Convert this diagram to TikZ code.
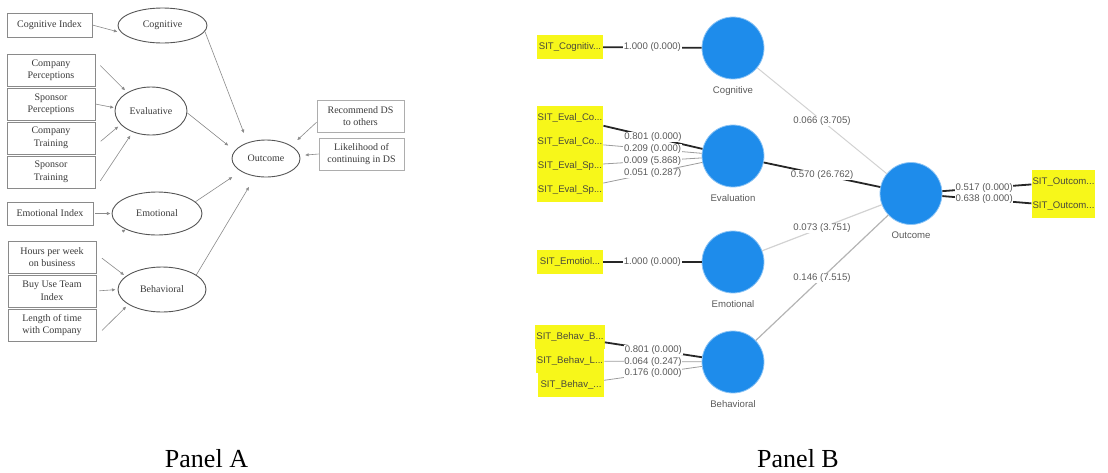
\documentclass[tikz,border=0pt]{standalone}
\usepackage{fontspec}
\setmainfont{Liberation Serif}
\newfontfamily\plsfont{Liberation Sans}
\usetikzlibrary{arrows.meta,shapes.geometric}

\definecolor{lineA}{HTML}{8A8A8A}
\definecolor{ellA}{HTML}{555555}
\definecolor{textA}{HTML}{3A3A3A}
\definecolor{plsblue}{HTML}{1E8CEB}
\definecolor{plshalo}{HTML}{8CC4F5}
\definecolor{plsyellow}{HTML}{F7F71A}
\definecolor{plstext}{HTML}{4A4A3A}
\definecolor{plslabel}{HTML}{5A5A5A}
\definecolor{pathlight}{HTML}{D2D2D2}
\definecolor{pathmid}{HTML}{B4B4B4}
\definecolor{loadlight}{HTML}{9C9C9C}

\tikzset{
  % Panel A: measurement model sketch
  indbox/.style={draw=lineA, line width=0.7pt, fill=white, minimum width=88pt,
    minimum height=32pt, inner sep=1pt, align=center, text=textA,
    font=\fontsize{10}{12.5}\selectfont},
  latent/.style={ellipse, draw=ellA, line width=0.9pt, inner sep=0pt, text=textA,
    font=\fontsize{10}{12}\selectfont},
  arrA/.style={draw=lineA, line width=0.6pt, -{Latex[length=3.6pt,width=3.4pt]}},
  % Panel B: estimated PLS model
  pcirc/.style={circle, fill=plsblue, draw=plshalo, line width=0.8pt,
    minimum size=62pt, inner sep=0pt},
  clabel/.style={text=plslabel, inner sep=0pt, yshift=-6.5pt,
    font=\plsfont\fontsize{9.6}{11}\selectfont},
  ybox/.style={fill=plsyellow, minimum width=66pt, minimum height=24pt, inner sep=1pt,
    text=plstext, font=\plsfont\fontsize{9.6}{11}\selectfont},
  wlbl/.style={fill=white, inner sep=0.6pt, text=plslabel,
    font=\plsfont\fontsize{9.6}{11}\selectfont},
  heavy/.style={draw=black!85, line width=1.8pt},
  thinload/.style={draw=loadlight, line width=0.8pt},
  panel/.style={font=\fontsize{26}{30}\selectfont, text=black, inner sep=0pt}
}

\begin{document}
\begin{tikzpicture}[x=1pt,y=-1pt]
\useasboundingbox (0,0) rectangle (1108,472);

% ---------------- Panel A ----------------
\node[indbox, minimum width=85pt, minimum height=24pt] (cidx) at (49.5,25) {Cognitive Index};
\node[indbox] (cp) at (51,70)  {Company\\Perceptions};
\node[indbox] (sp) at (51,104) {Sponsor\\Perceptions};
\node[indbox] (ct) at (51,138) {Company\\Training};
\node[indbox] (st) at (51,172) {Sponsor\\Training};
\node[indbox, minimum width=86pt, minimum height=23pt] (eidx) at (50,213.5) {Emotional Index};
\node[indbox] (hrs) at (52,257) {Hours per week\\on business};
\node[indbox] (buy) at (52,291) {Buy Use Team\\Index};
\node[indbox] (len) at (52,325) {Length of time\\with Company};
\node[indbox, draw=lineA!70, minimum width=87pt] (rec) at (360.5,116) {Recommend DS\\to others};
\node[indbox, draw=lineA!70, minimum width=85pt] (lik) at (361.5,154) {Likelihood of\\continuing in DS};

\node[latent, minimum width=89pt, minimum height=35pt] (cog)  at (162.5,25.5) {Cognitive};
\node[latent, minimum width=72pt, minimum height=48pt] (eval) at (151,111)   {Evaluative};
\node[latent, minimum width=90pt, minimum height=43pt] (emo)  at (157,213.5) {Emotional};
\node[latent, minimum width=88pt, minimum height=45pt] (beh)  at (162,289.5) {Behavioral};
\node[latent, minimum width=68pt, minimum height=37pt] (out)  at (266,158.5) {Outcome};

% indicators into their constructs
\draw[arrA, shorten >=4pt] (cidx.east) -- (cog.190);
\draw[arrA, shorten <=7pt, shorten >=3pt] (cp.12) -- (eval.142);
\draw[arrA, shorten >=1pt] (sp.east) -- (eval.175);
\draw[arrA, shorten <=7pt, shorten >=3pt] (ct.-10) -- (eval.204);
\draw[arrA, shorten <=9pt, shorten >=4pt] (st.south east) -- (eval.229);
\draw[arrA, shorten <=2pt, shorten >=1pt] (eidx.east) -- (emo.west);
\coordinate (emoTail) at (122.5,231.5);
\draw[arrA] (emoTail) -- (emo.207);
\draw[arrA, shorten <=7pt, shorten >=2pt] (hrs.4) -- (beh.160);
\draw[arrA, shorten <=3pt, shorten >=2pt] (buy.east) -- (beh.west);
\draw[arrA, shorten <=8pt, shorten >=3pt] (len.-14) -- (beh.204);

% constructs into the outcome
\draw[arrA, shorten >=10pt] (cog.-8) -- (out.139);
\draw[arrA, shorten >=8pt] (eval.-3) -- (out.166);
\draw[arrA, shorten >=10pt] (emo.17) -- (out.207);
\draw[arrA, shorten >=12pt] (beh.23.5) -- (out.239);
\draw[arrA, shorten >=8pt] (rec.188) -- (out.27);
\draw[arrA, shorten >=5pt] (lik.west) -- (out.5);

\node[panel] (panA) at (206.5,459) {Panel A};

% ---------------- Panel B ----------------
\node[pcirc, label={[clabel]below:Cognitive}]  (cogB)  at (733,48)    {};
\node[pcirc, label={[clabel]below:Evaluation}] (evalB) at (733,156)   {};
\node[pcirc, label={[clabel]below:Emotional}]  (emoB)  at (733,262)   {};
\node[pcirc, label={[clabel]below:Behavioral}] (behB)  at (733,362)   {};
\node[pcirc, label={[clabel]below:Outcome}]    (outB)  at (911,193.5) {};

\node[ybox] (yc)  at (570,47)  {SIT\_Cognitiv...};
\node[ybox] (ye1) at (570,118) {SIT\_Eval\_Co...};
\node[ybox] (ye2) at (570,142) {SIT\_Eval\_Co...};
\node[ybox] (ye3) at (570,166) {SIT\_Eval\_Sp...};
\node[ybox] (ye4) at (570,190) {SIT\_Eval\_Sp...};
\node[ybox] (yem) at (570,262) {SIT\_Emotiol...};
\node[ybox] (yb1) at (570,337) {SIT\_Behav\_B...};
\node[ybox] (yb2) at (570,361) {SIT\_Behav\_L...};
\node[ybox] (yb3) at (571,385) {SIT\_Behav\_...};
\node[ybox, minimum width=63pt] (yo1) at (1063.5,182) {SIT\_Outcom...};
\node[ybox, minimum width=63pt] (yo2) at (1063.5,206) {SIT\_Outcom...};

% outer weights / loadings
\draw[heavy] (yc) -- node[wlbl] {1.000 (0.000)} (cogB);
\draw[heavy] (ye1) -- node[wlbl] {0.801 (0.000)} (evalB);
\draw[thinload] (ye2) -- node[wlbl] {0.209 (0.000)} (evalB);
\draw[thinload] (ye3) -- node[wlbl] {0.009 (5.868)} (evalB);
\draw[thinload] (ye4) -- node[wlbl] {0.051 (0.287)} (evalB);
\draw[heavy] (yem) -- node[wlbl] {1.000 (0.000)} (emoB);
\draw[heavy] (yb1) -- node[wlbl] {0.801 (0.000)} (behB);
\draw[thinload] (yb2) -- node[wlbl] {0.064 (0.247)} (behB);
\draw[thinload] (yb3) -- node[wlbl] {0.176 (0.000)} (behB);
\draw[heavy] (outB) -- node[wlbl, pos=0.47] {0.517 (0.000)} (yo1);
\draw[heavy] (outB) -- node[wlbl, pos=0.47] {0.638 (0.000)} (yo2);

% path coefficients
\draw[draw=pathlight, line width=1pt] (cogB) -- node[wlbl] {0.066 (3.705)} (outB);
\draw[heavy] (evalB) -- node[wlbl] {0.570 (26.762)} (outB);
\draw[draw=pathlight, line width=1.2pt] (emoB) -- node[wlbl] {0.073 (3.751)} (outB);
\draw[draw=pathmid, line width=1.2pt] (behB) -- node[wlbl] {0.146 (7.515)} (outB);

\node[panel] (panB) at (798,459) {Panel B};
\end{tikzpicture}
\end{document}
